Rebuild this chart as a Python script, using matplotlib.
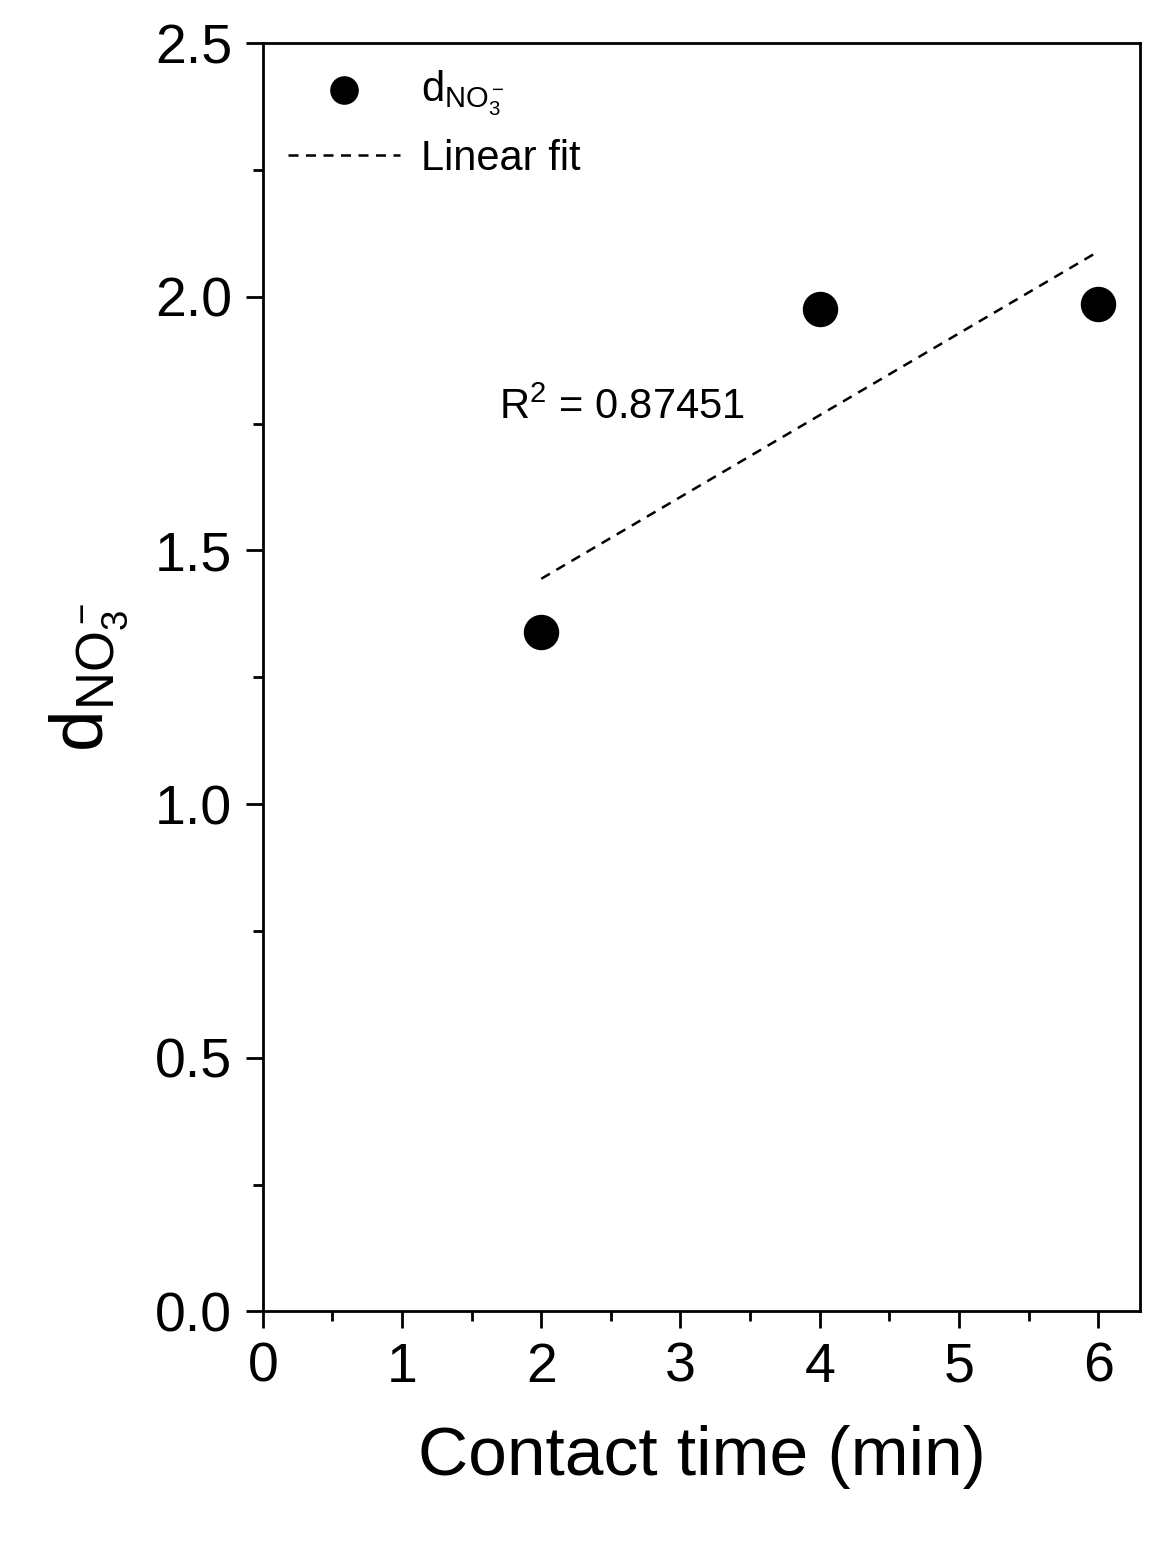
import numpy as np
import matplotlib
matplotlib.use("Agg")
import matplotlib.pyplot as plt
from matplotlib.ticker import MultipleLocator

time_min = [2, 4, 6]
d_no3 = [1.34, 1.975, 1.985]
r2_label = "R$^2$ = 0.87451"

plt.rcParams['font.family'] = ['Liberation Sans', 'DejaVu Sans']
plt.rcParams['mathtext.fontset'] = 'custom'
plt.rcParams['mathtext.rm'] = 'Liberation Sans'
plt.rcParams['mathtext.it'] = 'Liberation Sans'

fig = plt.figure(figsize=(11.68, 15.41), dpi=100)
ax = fig.add_axes([0.225, 0.149, 0.751, 0.823])

ax.scatter(time_min, d_no3, s=600, color='black', zorder=3, label=r'd$_{\mathrm{NO_3^-}}$')
coef = np.polyfit(time_min, d_no3, 1)
xf = np.array([min(time_min), max(time_min)])
ax.plot(xf, np.polyval(coef, xf), color='black', lw=1.8, dashes=(4, 3), label='Linear fit')

ax.set_xlim(0, 6.3)
ax.set_ylim(0, 2.5)
ax.xaxis.set_major_locator(MultipleLocator(1))
ax.xaxis.set_minor_locator(MultipleLocator(0.5))
ax.yaxis.set_major_locator(MultipleLocator(0.5))
ax.yaxis.set_minor_locator(MultipleLocator(0.25))
ax.tick_params(which='major', direction='out', length=12, width=2, labelsize=40, pad=10)
ax.tick_params(which='minor', direction='out', length=7, width=2)
for s in ax.spines.values():
    s.set_linewidth(2)

ax.set_xlabel('Contact time (min)', fontsize=50, labelpad=22)
ax.set_ylabel(r'd$_{\mathrm{NO_3^-}}$', fontsize=54, labelpad=18)

ax.text(1.7, 1.76, r2_label, fontsize=30)
ax.legend(loc='upper left', frameon=False, fontsize=30, handlelength=2.7,
          handletextpad=0.5, borderaxespad=0.2, labelspacing=0.5, markerscale=0.8)

fig.savefig('out.png', dpi=100)
